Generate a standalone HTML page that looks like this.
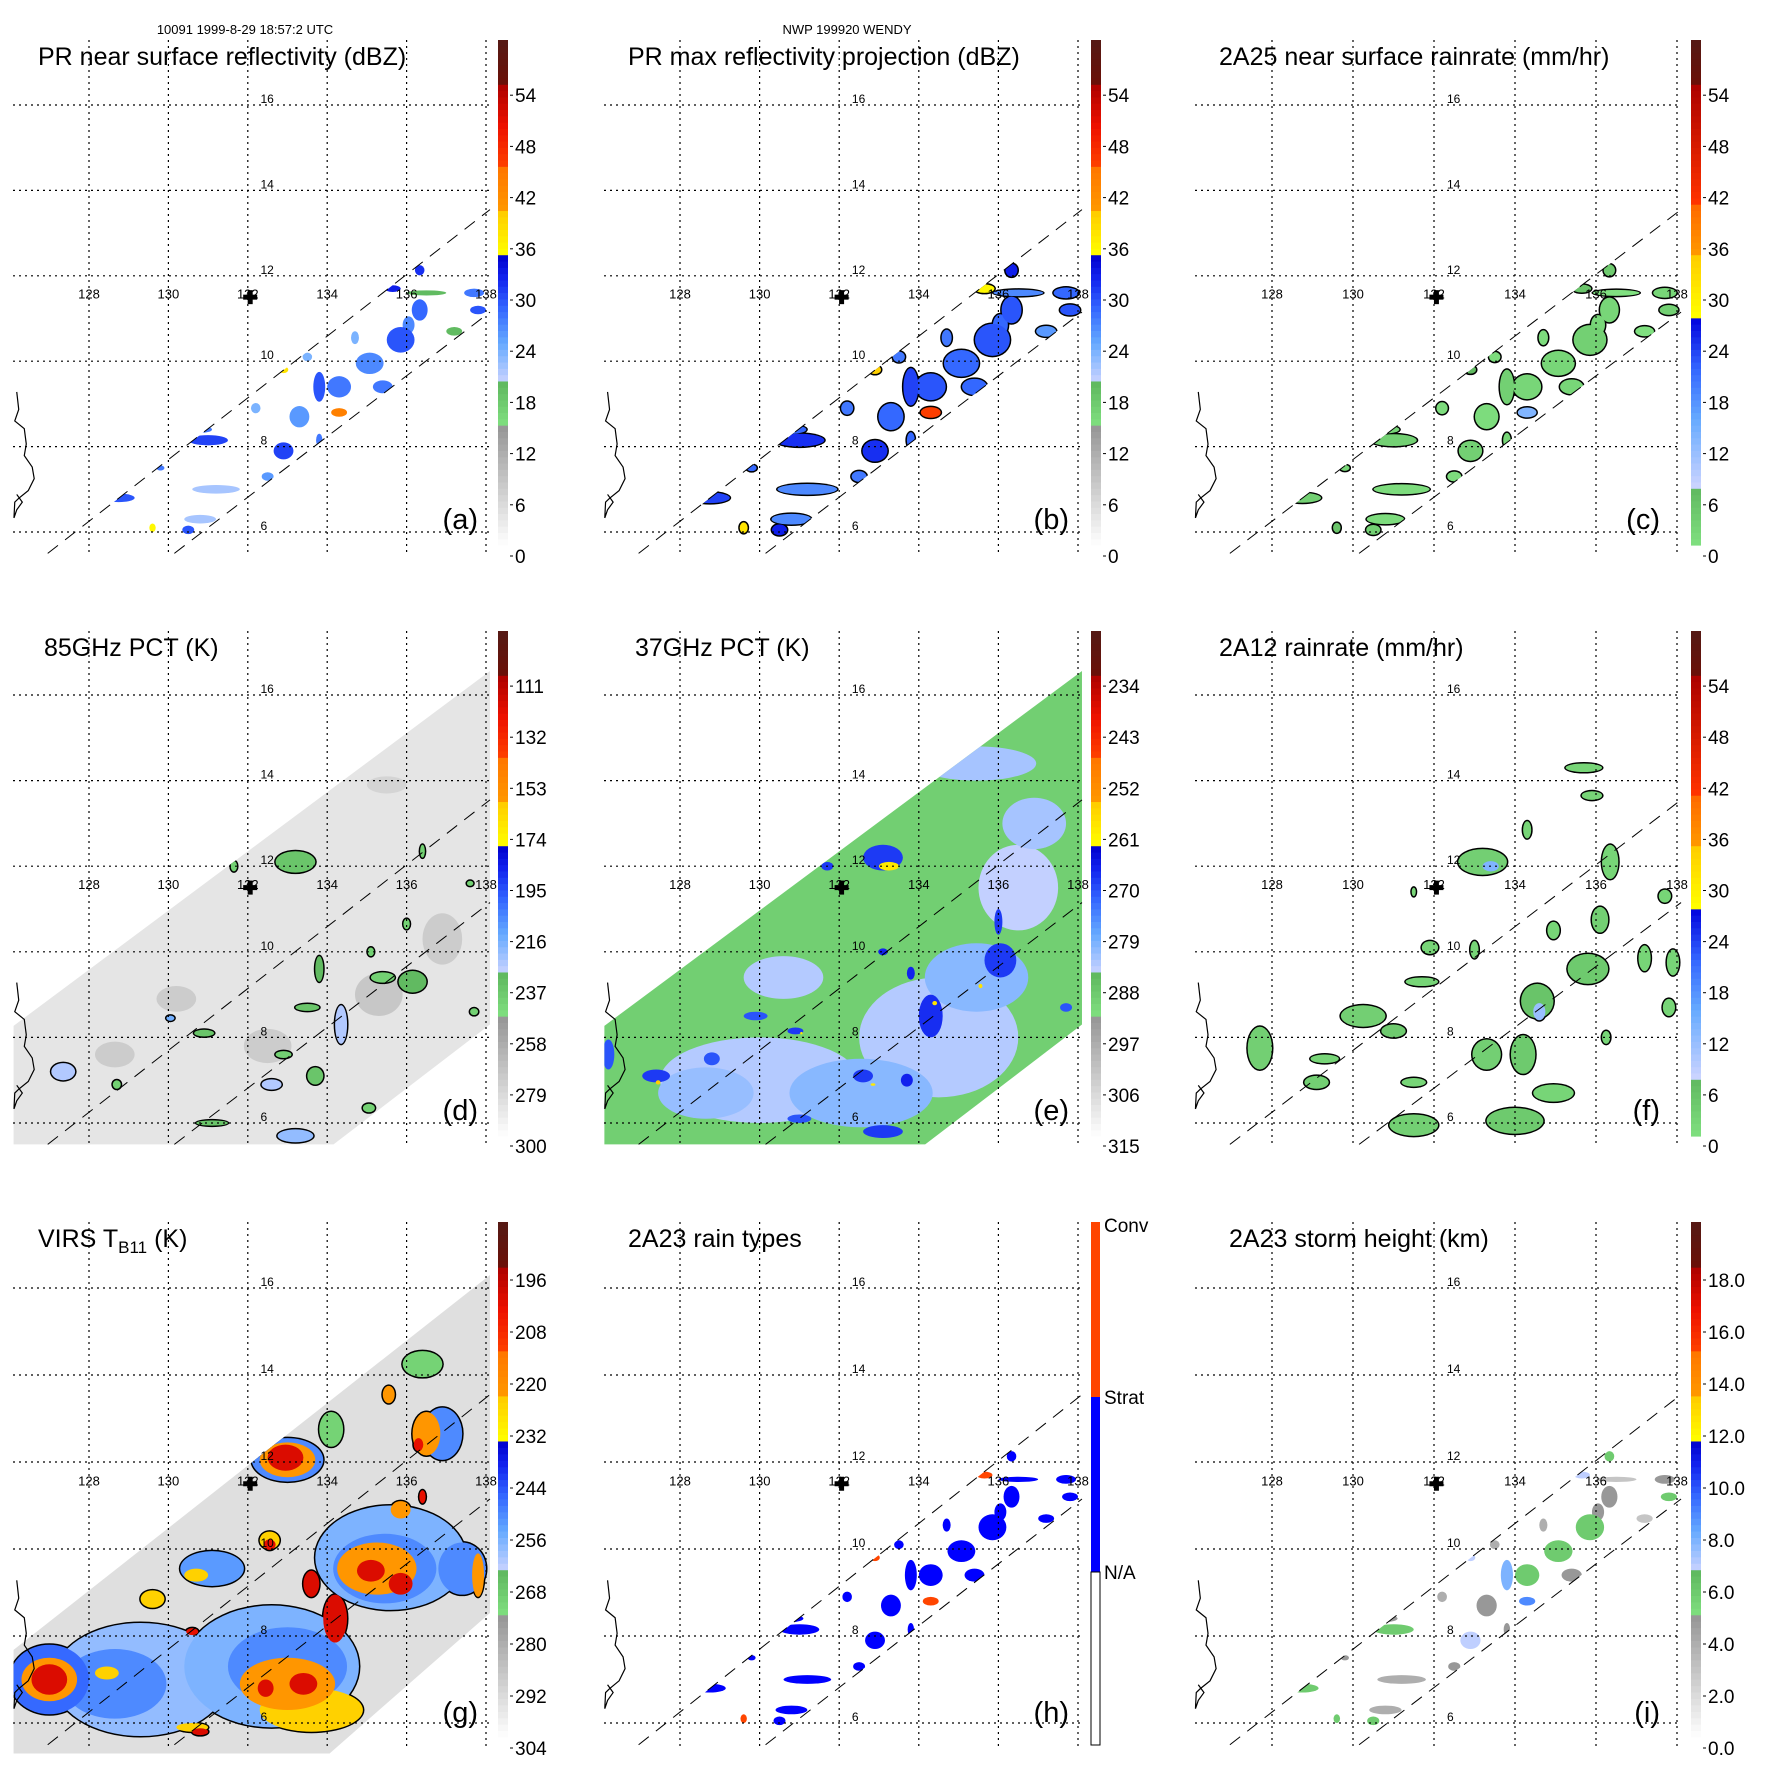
<!DOCTYPE html>
<html><head><meta charset="utf-8"><title>TRMM Wendy 1999</title>
<style>html,body{margin:0;padding:0;background:#fff}svg{display:block;font-family:"Liberation Sans",sans-serif}</style>
</head><body>
<svg id="fig" xmlns="http://www.w3.org/2000/svg" width="1771" height="1771" viewBox="0 0 1771 1771">
<rect width="1771" height="1771" fill="#fff"/>
<text x="245" y="34" font-size="13" text-anchor="middle">10091 1999-8-29 18:57:2 UTC</text>
<text x="847" y="34" font-size="13" text-anchor="middle">NWP 199920 WENDY</text>
</svg>
<script>
// ---------- PR cell data (panels a,b,c,h,i) ----------
const prLon=[135.85,136.33,135.65,136.33,136.05,135.07,134.3,134.3,133.8,133.3,132.9,132.5,131.0,130.8,128.75,131.2,130.8,130.5,137.7,137.8,134.7,132.9,133.5,132.2,136.5,137.2,129.8,129.6,135.4,133.8];
const prLat=[10.5,12.13,11.7,11.2,10.85,9.95,9.4,8.8,9.4,8.7,7.9,7.3,8.15,8.4,6.8,7.0,6.3,6.05,11.6,11.2,10.55,9.8,10.1,8.9,11.6,10.7,7.5,6.1,9.4,8.15];
const prRx=[0.35,0.12,0.2,0.2,0.15,0.35,0.3,0.2,0.15,0.25,0.25,0.15,0.5,0.3,0.4,0.6,0.4,0.15,0.25,0.2,0.1,0.12,0.12,0.12,0.5,0.2,0.1,0.08,0.25,0.08];
const prRy=[0.3,0.12,0.08,0.25,0.2,0.25,0.25,0.1,0.35,0.25,0.2,0.1,0.12,0.08,0.1,0.1,0.1,0.1,0.1,0.1,0.15,0.08,0.1,0.12,0.06,0.1,0.06,0.1,0.15,0.15];
const prRefl=[30,32,33,29,27,27,28,44,30,26,31,26,31,28,30,22,22,30,28,30,24,38,24,24,20,20,28,36,28,28];
const prMaxRefl=[30,33,36,30,29,29,30,46,31,29,32,28,32,29,31,27,27,33,29,30,28,40,28,28,27,26,29,38,29,29];
const prRain=[4,5,6,3,3,3,3,14,4,2,4,2,4,3,4,2,2,4,3,4,2,8,2,2,1,1,3,6,3,3];
const prType=[1,1,2,1,1,1,1,2,1,1,1,1,1,1,1,1,1,1,1,1,1,2,1,1,1,1,1,2,1,1];
const prHeight=[6,6,7,5,5,6,6,9,8,5,7,5,6,5,6,4,4,6,5,6,4,7,4,4,3,3,5,6,5,5];
// ---------- 85 GHz PCT (d) ----------
const d85Lon=[128.65,132.5,135.3,135.5,130.2,136.9,133.2,136.15,135.4,134.35,133.8,133.5,133.7,132.6,133.2,131.1,127.35,130.9,130.05,131.65,136.4,136.0,132.9,135.1,137.7,137.6,135.05,128.7];
const d85Lat=[7.6,7.8,9.0,13.9,8.9,10.3,12.1,9.3,9.4,8.3,9.6,8.7,7.1,6.9,5.7,6.0,7.2,8.1,8.45,12.0,12.35,10.65,7.6,10.0,8.6,11.6,6.35,6.9];
const d85Rx=[0.5,0.6,0.6,0.5,0.5,0.5,0.5,0.35,0.3,0.15,0.1,0.3,0.2,0.25,0.45,0.4,0.3,0.25,0.1,0.08,0.06,0.08,0.2,0.08,0.1,0.08,0.15,0.1];
const d85Ry=[0.3,0.4,0.5,0.2,0.3,0.6,0.25,0.25,0.12,0.45,0.3,0.08,0.2,0.12,0.15,0.06,0.2,0.08,0.06,0.12,0.15,0.12,0.08,0.1,0.08,0.06,0.1,0.1];
const d85Val=[272,272,270,276,272,272,235,230,240,225,230,235,235,225,220,235,225,235,215,240,240,240,240,240,240,240,240,240];
// ---------- 37 GHz PCT (e) ----------
const e37Lon=[130.0,134.5,136.5,132.55,128.65,135.45,135.45,136.9,130.6,133.1,131.7,136.05,134.3,133.7,132.6,133.1,131.0,129.9,127.4,126.2,128.8,130.9,136.0,137.7,133.8,133.1,133.25,134.4,135.55,127.45,132.85,131.05];
const e37Lat=[7.0,8.0,11.5,6.7,6.7,9.4,14.4,13.0,9.4,12.2,12.0,9.8,8.5,7.0,7.1,5.8,6.1,8.5,7.1,7.6,7.5,8.15,10.7,8.7,9.5,10.0,12.0,8.8,9.2,6.95,6.9,8.1];
const e37Rx=[2.5,2.0,1.0,1.8,1.2,1.3,1.5,0.8,1.0,0.5,0.15,0.4,0.3,0.15,0.25,0.5,0.3,0.3,0.35,0.15,0.2,0.2,0.1,0.15,0.1,0.12,0.25,0.06,0.05,0.06,0.06,0.03];
const e37Ry=[1.0,1.4,1.0,0.8,0.6,0.8,0.4,0.6,0.5,0.3,0.1,0.4,0.5,0.15,0.15,0.15,0.1,0.1,0.15,0.35,0.15,0.08,0.3,0.1,0.15,0.08,0.1,0.05,0.05,0.05,0.03,0.03];
const e37Val=[283,283,284,280,281,280,282,282,283,268,268,268,267,266,268,268,270,270,268,270,270,268,268,270,266,266,259,258,258,255,259,259];
// ---------- 2A12 rain (f) ----------
const fLon=[133.2,136.35,136.1,135.8,134.55,134.2,133.3,134.0,131.5,134.95,130.25,131.0,127.7,129.1,129.3,135.7,135.9,137.2,137.8,136.25,134.95,134.3,131.7,131.9,131.5,137.7,137.9,133.0,131.5,133.4,134.6];
const fLat=[12.1,12.1,10.75,9.6,8.85,7.6,7.6,6.05,5.95,6.7,8.5,8.15,7.75,6.95,7.5,14.3,13.65,9.85,8.7,8.0,10.5,12.85,9.3,10.1,6.95,11.3,9.75,10.05,11.4,12.0,8.6];
const fRx=[0.6,0.2,0.2,0.5,0.4,0.3,0.35,0.7,0.6,0.5,0.55,0.3,0.3,0.3,0.35,0.45,0.25,0.15,0.15,0.1,0.15,0.1,0.4,0.2,0.3,0.15,0.15,0.1,0.05,0.2,0.15];
const fRy=[0.3,0.4,0.3,0.35,0.4,0.45,0.35,0.3,0.25,0.2,0.25,0.15,0.5,0.15,0.1,0.1,0.1,0.3,0.2,0.15,0.2,0.2,0.1,0.15,0.1,0.15,0.3,0.2,0.1,0.12,0.2];
const fVal=[4,3,4,5,6,5,4,5,4,3,4,5,4,4,3,3,3,3,3,3,3,3,3,3,3,3,3,3,3,14,12];
// ---------- VIRS TB11 (g) ----------
const gLon=[129.3,132.6,135.6,127.0,128.65,133.0,135.45,133.0,136.9,137.4,131.1,136.4,134.1,129.8,127.0,133.0,133.6,135.25,133.0,136.5,129.6,130.7,132.55,135.55,135.85,137.8,128.45,130.6,127.0,132.95,134.2,133.6,135.1,135.85,133.4,132.45,130.8,132.55,130.6,136.3,136.4];
const gLat=[7.0,7.3,9.8,7.0,6.9,7.3,9.55,12.05,12.65,9.55,9.55,14.25,12.75,7.8,7.0,6.9,6.3,9.55,12.05,12.65,8.85,9.4,10.2,13.55,10.9,9.4,7.15,5.9,7.0,12.1,8.4,9.2,9.5,9.2,6.9,6.8,5.8,10.1,8.1,12.4,11.2];
const gRx=[2.2,2.2,1.9,1.0,1.3,1.5,1.3,0.9,0.5,0.6,0.8,0.5,0.3,0.4,0.7,1.2,1.3,1.0,0.7,0.35,0.3,0.3,0.25,0.15,0.25,0.15,0.3,0.4,0.45,0.45,0.3,0.2,0.35,0.3,0.35,0.2,0.2,0.15,0.15,0.12,0.08];
const gRy=[1.3,1.4,1.2,0.8,0.8,0.9,0.8,0.5,0.6,0.6,0.4,0.3,0.4,0.2,0.5,0.6,0.5,0.6,0.4,0.5,0.2,0.15,0.2,0.2,0.2,0.5,0.15,0.1,0.35,0.3,0.55,0.3,0.25,0.25,0.25,0.2,0.08,0.12,0.08,0.15,0.15];
const gVal=[258,256,256,246,250,250,250,250,250,250,252,270,270,270,222,222,224,222,222,222,224,224,224,222,222,222,224,224,200,200,200,200,200,200,200,200,200,202,202,202,202];
// ---------- colorbar tick labels ----------
const ticksRefl=['0','6','12','18','24','30','36','42','48','54'];
const ticks85=['300','279','258','237','216','195','174','153','132','111'];
const ticks37=['315','306','297','288','279','270','261','252','243','234'];
const ticksVirs=['304','292','280','268','256','244','232','220','208','196'];
const ticksHeight=['0.0','2.0','4.0','6.0','8.0','10.0','12.0','14.0','16.0','18.0'];
const latTicks=[16,14,12,10,8,6];
const lonTicks=[128,130,132,134,136,138];
const coastLon=[126.18,126.23,126.13,126.37,126.42,126.37,126.57,126.62,126.47,126.23,126.13,126.11,126.18,126.32,126.18];
const coastLat=[9.28,8.87,8.6,8.42,8.06,7.79,7.52,7.25,6.97,6.79,6.7,6.33,6.52,6.7,6.88];

const NS='http://www.w3.org/2000/svg';
const svg=document.getElementById('fig');
function el(tag,attrs,parent){const e=document.createElementNS(NS,tag);for(const k in attrs)e.setAttribute(k,attrs[k]);(parent||svg).appendChild(e);return e;}
const reflStops=[[0,'#ffffff'],[0.237,'#959595'],[0.237,'#80e080'],[0.322,'#5fb85f'],[0.322,'#ccd4ff'],[0.40,'#66aaff'],[0.47,'#3366ff'],[0.53,'#1122ee'],[0.575,'#0000cc'],[0.575,'#ffff00'],[0.66,'#ffcc00'],[0.66,'#ff9900'],[0.745,'#ff7700'],[0.745,'#ff4400'],[0.83,'#ee1100'],[0.915,'#aa0000'],[0.915,'#6a1008'],[1,'#551a15']];
const rainStops=[[0,'#80e080'],[0.115,'#60b860'],[0.115,'#ccd4ff'],[0.25,'#66aaff'],[0.35,'#3366ff'],[0.452,'#0000dd'],[0.452,'#ffff00'],[0.575,'#ffcc00'],[0.575,'#ff9900'],[0.68,'#ff6600'],[0.68,'#ff3300'],[0.915,'#aa0000'],[0.915,'#6a1008'],[1,'#551a15']];
function hex(c){return [parseInt(c.substr(1,2),16),parseInt(c.substr(3,2),16),parseInt(c.substr(5,2),16)];}
function cmap(stops,f){f=Math.max(0,Math.min(0.999,f));for(let i=0;i<stops.length-1;i++){const a=stops[i],b=stops[i+1];if(f>=a[0]&&f<b[0]){const t=(f-a[0])/(b[0]-a[0]);const A=hex(a[1]),B=hex(b[1]);return 'rgb('+A.map((v,j)=>Math.round(v+(B[j]-v)*t)).join(',')+')';}}return stops[stops.length-1][1];}

const cols=[{ox:0,x128:89,dx:39.7,right:490,cbx:498},{ox:591,x128:89,dx:39.8,right:490,cbx:500},{ox:1182,x128:90,dx:40.5,right:497,cbx:509}];
const rows=[{oy:0,y16:105,dy:42.7,bottom:553,barB:545,yl0:556,ls:51.2},{oy:591,y16:104,dy:42.8,bottom:553,barB:545,yl0:555,ls:51.1},{oy:1182,y16:106,dy:43.5,bottom:564,barB:555,yl0:566,ls:52}];
let clipId=0;

function makePanel(ci,ri,name,title,tag,stops,L0,Lstep,ticks,titleX){
  const c=cols[ci],r=rows[ri];
  const g=el('g',{transform:'translate('+c.ox+','+r.oy+')'});
  
  
  const X=lon=>c.x128+(lon-128)*c.dx, Y=lat=>r.y16+(16-lat)*r.dy;
  const frac=v=>{const y=r.yl0-(v-L0)/Lstep*r.ls;return (r.barB-y)/(r.barB-40);};
  const color=v=>cmap(stops,frac(v));
  const field=el('g',{},g);
  
  
  const over=el('g',{},g);
  const cb=el('g',{},g);
  
  
  if(stops){
    const n=80,h=(r.barB-40)/n;
    for(let i=0;i<n;i++){el('rect',{x:c.cbx,y:r.barB-(i+1)*h,width:10,height:h+0.6,fill:cmap(stops,(i+0.5)/n)},cb);}
    ticks.forEach((t,i)=>{const y=r.yl0-i*r.ls;
      el('line',{x1:c.cbx+12,x2:c.cbx+15,y1:y,y2:y,stroke:'#000','stroke-width':1},cb);
      const tx=el('text',{x:c.cbx+17,y:y+7,'font-size':19},cb);tx.textContent=t;
      
      });
  }
  const tt=el('text',{x:titleX,y:65,'font-size':25},g);
  
  
  if(typeof title==='string')tt.textContent=title;else{title(tt);}
  const lab=el('text',{x:478,y:r.bottom-24,'font-size':29,'text-anchor':'end'},g);
  lab.textContent=tag;
  
  
  const grid=el('g',{stroke:'#000','stroke-width':1.2,'stroke-dasharray':'2 4'},over);
  
  
  lonTicks.forEach(l=>el('line',{x1:X(l),x2:X(l),y1:40,y2:r.bottom},grid));
  latTicks.forEach(l=>el('line',{x1:13,x2:c.right,y1:Y(l),y2:Y(l)},grid));
  latTicks.forEach(l=>{const t=el('text',{x:X(132.32),y:Y(l)-2,'font-size':12},over);t.textContent=l;
    
    });
  lonTicks.forEach(l=>{const t=el('text',{x:X(l),y:Y(11.58)+5,'font-size':13,'text-anchor':'middle'},over);t.textContent=l;
    
    });
  const cp=el('polyline',{points:coastLon.map((lo,i)=>X(lo)+','+Y(coastLat[i])).join(' '),fill:'none',stroke:'#000','stroke-width':1.2},over);
  
  
  [[126.96,5.5,138.1,13.55],[130.15,5.5,138.1,11.15]].forEach(s=>{
    const ln=el('line',{x1:X(s[0]),y1:Y(s[1]),x2:X(s[2]),y2:Y(s[3]),stroke:'#000','stroke-width':1,'stroke-dasharray':'13 9'},over);
    
    });
  const mk=el('g',{fill:'#000'},over);
  
  
  el('rect',{x:X(132.06)-7,y:Y(11.5)-2.5,width:14,height:5},mk);
  el('rect',{x:X(132.06)-2.5,y:Y(11.5)-7,width:5,height:14},mk);
  function clipPoly(lons,lats){const id='clip'+(clipId++);const cpth=el('clipPath',{id:id},g);
    el('polygon',{points:lons.map((lo,i)=>X(lo)+','+Y(lats[i])).join(' ')},cpth);return 'url(#'+id+')';}
  return {g,field,X,Y,color,frac,r,c,clipPoly};
}

function drawBlobs(P,parent,lons,lats,rxs,rys,vals,opts){
  opts=opts||{};const s=opts.scale||1;const colorFn=opts.colorFn||P.color;
  const idx=lons.map((_,i)=>i);
  if(opts.order)idx.sort((a,b)=>opts.order(vals[a],vals[b]));
  if(opts.outline){idx.forEach(i=>{const e=el('ellipse',{cx:P.X(lons[i]),cy:P.Y(lats[i]),rx:rxs[i]*P.c.dx*s+1.5,ry:rys[i]*P.r.dy*s+1.5,fill:'#000'},parent);
    
    });}
  idx.forEach(i=>{const e=el('ellipse',{cx:P.X(lons[i]),cy:P.Y(lats[i]),rx:rxs[i]*P.c.dx*s,ry:rys[i]*P.r.dy*s,fill:colorFn(vals[i])},parent);
    
    });
}

const prClipLon=[126.96,138.1,138.1,130.15], prClipLat=[5.5,13.55,11.15,5.5];
const asc=(a,b)=>a-b, desc=(a,b)=>b-a;

let P=makePanel(0,0,'panel-a-pr-reflectivity','PR near surface reflectivity (dBZ)','(a)',reflStops,0,6,ticksRefl,38);
let fg=el('g',{'clip-path':P.clipPoly(prClipLon,prClipLat)},P.field);
drawBlobs(P,fg,prLon,prLat,prRx,prRy,prRefl,{order:asc});
P=makePanel(1,0,'panel-b-max-reflectivity','PR max reflectivity projection (dBZ)','(b)',reflStops,0,6,ticksRefl,37);
fg=el('g',{'clip-path':P.clipPoly(prClipLon,prClipLat)},P.field);
drawBlobs(P,fg,prLon,prLat,prRx,prRy,prMaxRefl,{order:asc,scale:1.25,outline:true});
P=makePanel(2,0,'panel-c-2a25-rainrate','2A25 near surface rainrate (mm/hr)','(c)',rainStops,0,6,ticksRefl,37);
fg=el('g',{'clip-path':P.clipPoly(prClipLon,prClipLat)},P.field);
drawBlobs(P,fg,prLon,prLat,prRx,prRy,prRain,{order:asc,scale:1.15,outline:true});
P=makePanel(0,1,'panel-d-85ghz-pct','85GHz PCT (K)','(d)',reflStops,300,-21,ticks85,44);
let tmiLon=[126.1,126.1,138.1,138.1,134.16], tmiLat=[5.5,8.27,16.56,8.3,5.5];
fg=el('g',{'clip-path':P.clipPoly(tmiLon,tmiLat)},P.field);
el('rect',{x:0,y:0,width:591,height:591,fill:P.color(284)},fg);
drawBlobs(P,fg,d85Lon.slice(0,6),d85Lat.slice(0,6),d85Rx.slice(0,6),d85Ry.slice(0,6),d85Val.slice(0,6),{});
drawBlobs(P,fg,d85Lon.slice(6),d85Lat.slice(6),d85Rx.slice(6),d85Ry.slice(6),d85Val.slice(6),{outline:true,order:desc});
P=makePanel(1,1,'panel-e-37ghz-pct','37GHz PCT (K)','(e)',reflStops,315,-9,ticks37,44);
fg=el('g',{'clip-path':P.clipPoly(tmiLon,tmiLat)},P.field);
el('rect',{x:0,y:0,width:591,height:591,fill:P.color(289)},fg);
drawBlobs(P,fg,e37Lon,e37Lat,e37Rx,e37Ry,e37Val,{order:desc});
P=makePanel(2,1,'panel-f-2a12-rainrate','2A12 rainrate (mm/hr)','(f)',rainStops,0,6,ticksRefl,37);
fg=el('g',{'clip-path':P.clipPoly(tmiLon,tmiLat)},P.field);
drawBlobs(P,fg,fLon,fLat,fRx,fRy,fVal,{outline:true,order:asc});
P=makePanel(0,2,'panel-g-virs-tb11',function(t){t.appendChild(document.createTextNode('VIRS T'));const s=el('tspan',{'font-size':17,dy:6},t);s.textContent='B11';const s2=el('tspan',{dy:-6},t);s2.textContent=' (K)';},'(g)',reflStops,304,-12,ticksVirs,38);
fg=el('g',{'clip-path':P.clipPoly([126.1,126.1,138.1,138.1,134.06],[5.3,7.68,16.3,8.53,5.3])},P.field);
el('rect',{x:0,y:0,width:591,height:591,fill:P.color(293)},fg);
drawBlobs(P,fg,gLon,gLat,gRx,gRy,gVal,{outline:true,order:desc});
P=makePanel(1,2,'panel-h-2a23-rain-types','2A23 rain types','(h)',null,0,1,[],37);
fg=el('g',{'clip-path':P.clipPoly(prClipLon,prClipLat)},P.field);
drawBlobs(P,fg,prLon,prLat,prRx,prRy,prType,{order:asc,colorFn:v=>v===2?'#ff4500':'#0000ff'});
(function(){const c=P.c,cb=el('g',{},P.g);
  
  
  el('rect',{x:c.cbx,y:40,width:9,height:175,fill:'#ff4500'},cb);
  el('rect',{x:c.cbx,y:215,width:9,height:175,fill:'#0000ff'},cb);
  el('rect',{x:c.cbx,y:390,width:9,height:173,fill:'#fff',stroke:'#000','stroke-width':1},cb);
  [['Conv',50],['Strat',222],['N/A',397]].forEach(p=>{const t=el('text',{x:c.cbx+13,y:p[1],'font-size':19},cb);t.textContent=p[0];
    
    });})();
P=makePanel(2,2,'panel-i-storm-height','2A23 storm height (km)','(i)',reflStops,0,2,ticksHeight,47);
fg=el('g',{'clip-path':P.clipPoly(prClipLon,prClipLat)},P.field);
drawBlobs(P,fg,prLon,prLat,prRx,prRy,prHeight,{order:asc});
</script>
</body></html>
